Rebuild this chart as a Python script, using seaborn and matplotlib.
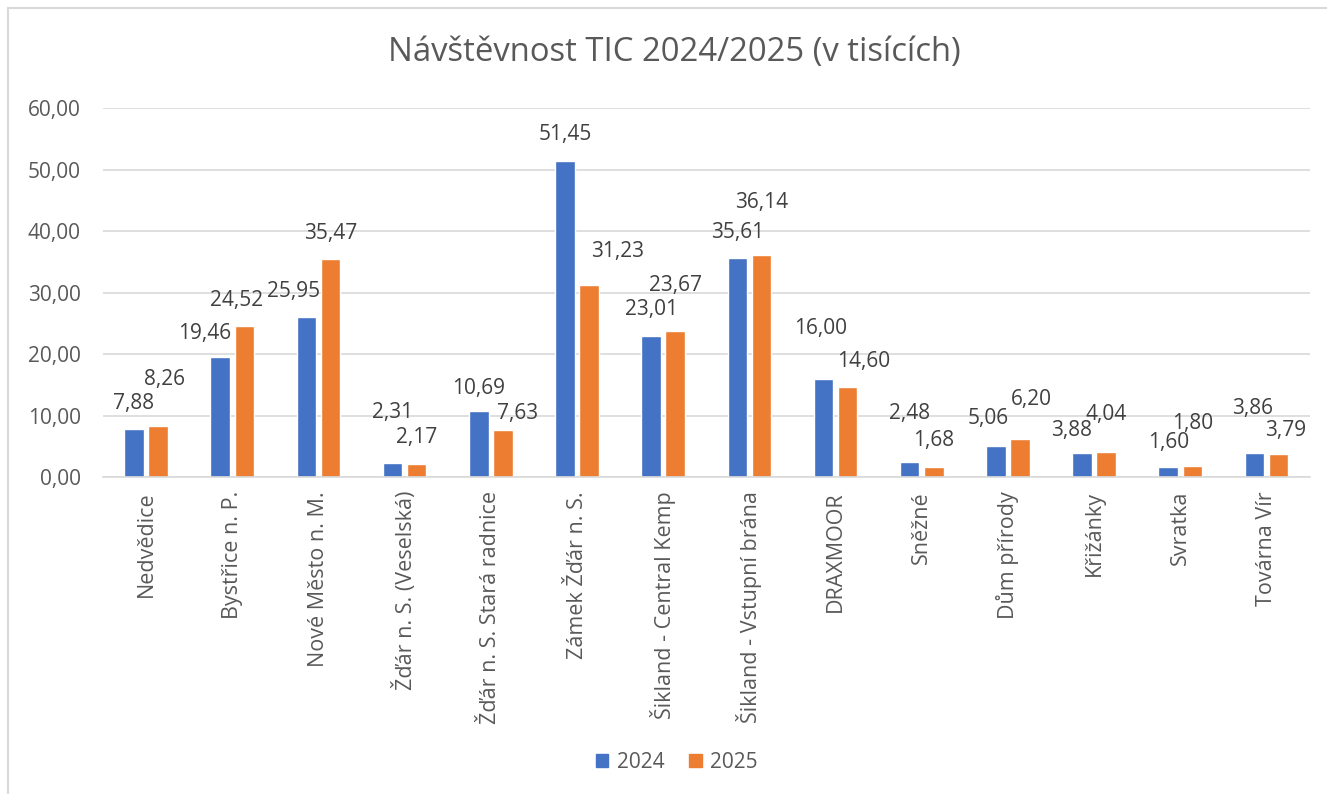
import numpy as np
import pandas as pd
import seaborn as sns
import matplotlib.pyplot as plt
from matplotlib.patches import Rectangle

# Data (thousands of visitors)
places = ["Nedvědice", "Bystřice n. P.", "Nové Město n. M.", "Žďár n. S. (Veselská)",
          "Žďár n. S. Stará radnice", "Zámek Žďár n. S.", "Šikland - Central Kemp",
          "Šikland - Vstupní brána", "DRAXMOOR", "Sněžné", "Dům přírody",
          "Křižánky", "Svratka", "Továrna Vír"]
visits_2024 = [7.88, 19.46, 25.95, 2.31, 10.69, 51.45, 23.01, 35.61, 16.00, 2.48, 5.06, 3.88, 1.60, 3.86]
visits_2025 = [8.26, 24.52, 35.47, 2.17, 7.63, 31.23, 23.67, 36.14, 14.60, 1.68, 6.20, 4.04, 1.80, 3.79]
years = ["2024", "2025"]
yticks = [0, 10, 20, 30, 40, 50, 60]

# Label placement (pixels from bar top centre), staggered like the original
offsets_2024 = [(0, 25), (-16, 24), (-13, 26), (0, 50), (0, 23), (0, 26), (0, 26),
                (0, 26), (-3, 50), (0, 48), (-8, 27), (-11, 23), (0, 25), (-2, 45)]
offsets_2025 = [(6, 47), (-8, 26), (0, 25), (0, 26), (15, 17), (28, 33), (0, 46),
                (0, 52), (16, 26), (0, 26), (11, 39), (0, 38), (0, 42), (7, 23)]

df = pd.DataFrame({
    "place": places * 2,
    "year": [years[0]] * len(places) + [years[1]] * len(places),
    "visits": visits_2024 + visits_2025,
})

sns.set_theme(style="white")
plt.rcParams['font.family'] = ['Open Sans', 'DejaVu Sans']
txt = "#595959"
colors = {"2024": "#4472C4", "2025": "#ED7D31"}

fig = plt.figure(figsize=(13.27, 7.94), dpi=100)
ax = fig.add_axes([0.0776, 0.3992, 0.9093, 0.4647])

sns.barplot(data=df, x="place", y="visits", hue="year", order=places,
            palette=colors, saturation=1, width=0.56, gap=0.19, ax=ax, legend=False)

# value labels with decimal comma
for cont, offs in zip(ax.containers, [offsets_2024, offsets_2025]):
    for bar, (dx, dy) in zip(cont, offs):
        x = bar.get_x() + bar.get_width() / 2
        h = bar.get_height()
        ax.annotate(f"{h:.2f}".replace(".", ","), (x, h), xytext=(dx, dy),
                    textcoords="offset pixels", ha="center", va="center",
                    fontsize=15, color="#404040")

ax.set_ylim(0, 60)
ax.set_yticks(yticks)
ax.set_yticklabels([f"{v:.2f}".replace(".", ",") for v in yticks], fontsize=15, color=txt)
ax.yaxis.grid(True, color="#d9d9d9", linewidth=1.2)
ax.set_axisbelow(True)
ax.tick_params(axis="y", length=0, pad=16)
ax.tick_params(axis="x", length=0, pad=10)
ax.set_xticks(range(len(places)))
ax.set_xticklabels(places, rotation=90, fontsize=15.5, color=txt)
ax.set_xlabel("")
ax.set_ylabel("")
for s in ["top", "right", "left"]:
    ax.spines[s].set_visible(False)
ax.spines["bottom"].set_color("#d9d9d9")
ax.spines["bottom"].set_linewidth(1.2)

fig.suptitle("Návštěvnost TIC 2024/2025 (v tisících)", x=0.508, y=0.955, fontsize=23.7, color=txt)

# legend at the bottom
handles = [Rectangle((0, 0), 1, 1, color=colors[y]) for y in years]
fig.legend(handles, years, loc="center", bbox_to_anchor=(0.51, 0.04), ncol=2,
           frameon=False, fontsize=15, labelcolor=txt, handlelength=0.6,
           handleheight=0.6, columnspacing=1.2, handletextpad=0.4)

# chart border
fig.add_artist(Rectangle((0.006, -0.01), 1.1, 1.0, transform=fig.transFigure,
                         fill=False, edgecolor="#d9d9d9", linewidth=1.5))

fig.savefig("out.png", dpi=100)
